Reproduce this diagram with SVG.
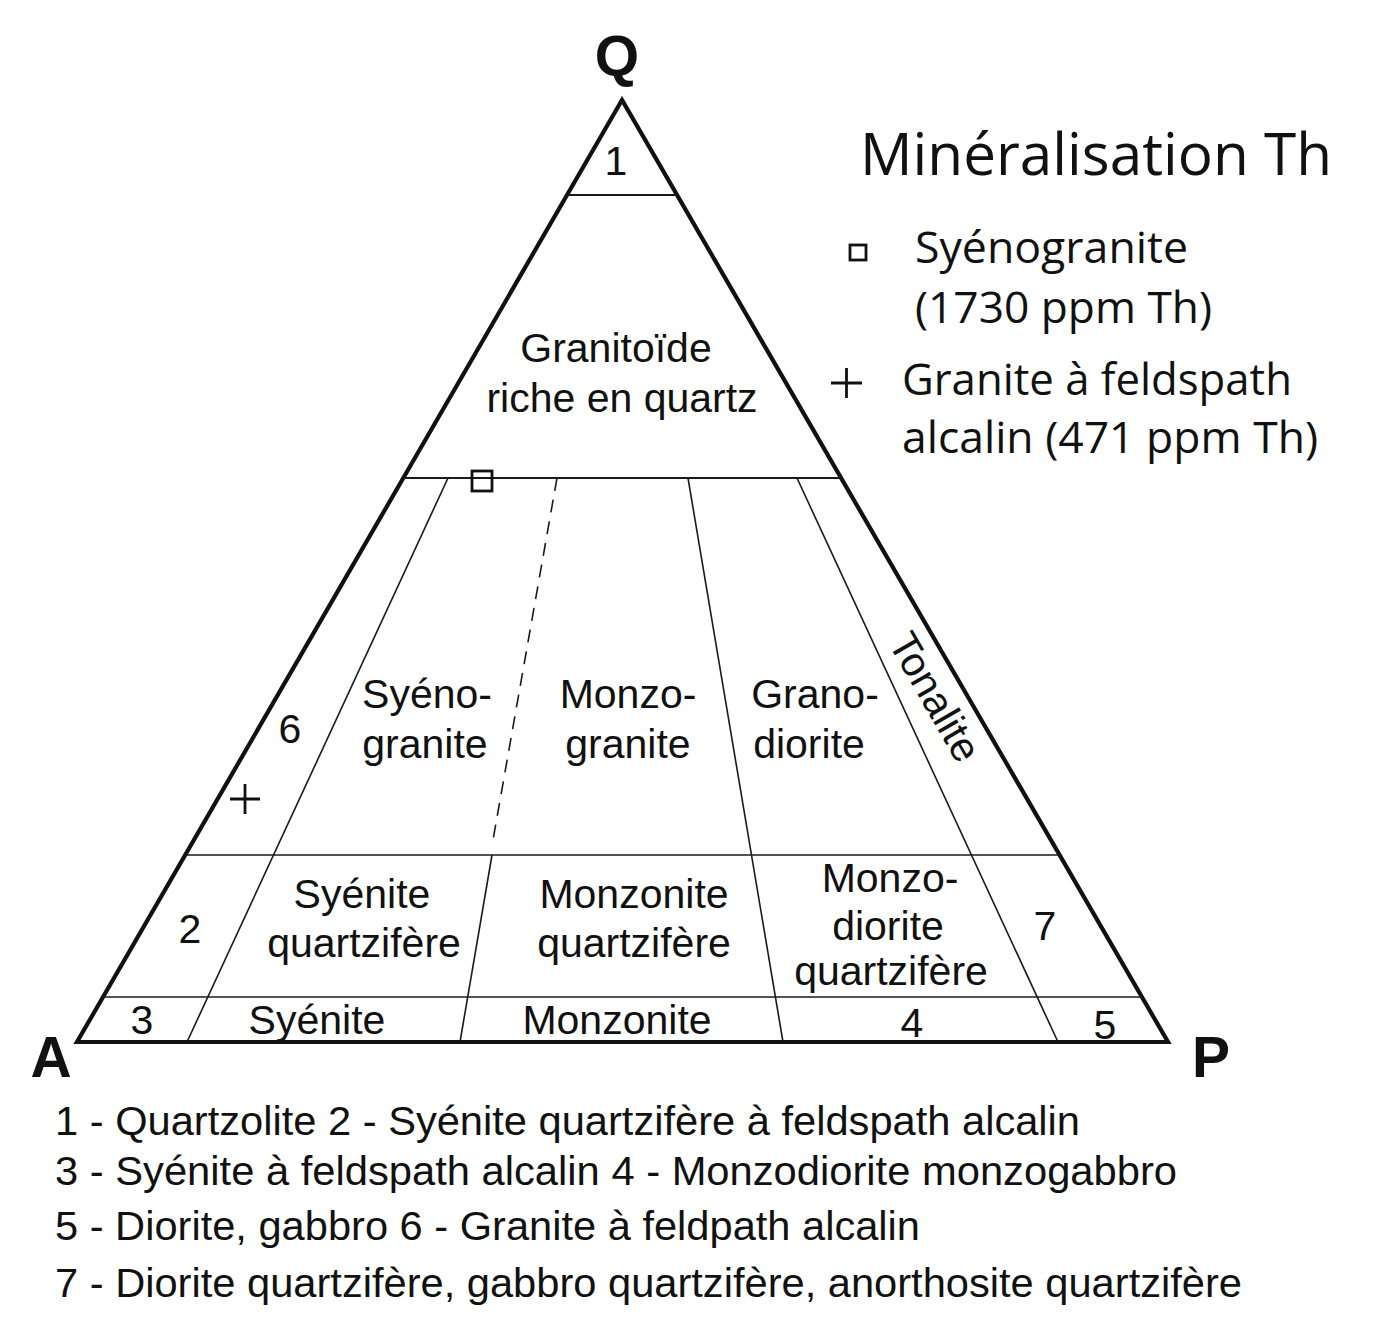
<svg xmlns="http://www.w3.org/2000/svg" width="1374" height="1331" viewBox="0 0 1374 1331">
<style>
.lab{font-family:"Liberation Sans",Arial,sans-serif;font-size:41px;fill:#111;text-anchor:middle}
.leg{font-family:"Liberation Sans",Arial,sans-serif;font-size:41px;fill:#111}
.big{font-family:"Liberation Sans",Arial,sans-serif;font-weight:bold;font-size:57px;fill:#111;text-anchor:middle}
.myr{font-family:"Open Sans","Noto Sans",sans-serif;fill:#111}
.thin{stroke:#1a1a1a;stroke-width:1.6;fill:none}
.mid{stroke:#1a1a1a;stroke-width:2.2;fill:none}
.mark{stroke:#111;stroke-width:2.8;fill:none}
</style>
<rect width="1374" height="1331" fill="#fff"/>
<g id="frame">
<polygon points="622,100 77,1042 1168,1042" fill="none" stroke="#111" stroke-width="4.2" stroke-linejoin="miter"/>
</g>
<g id="connectors">
<line class="mid" x1="567" y1="195" x2="677" y2="195"/>
<line class="mid" x1="403" y1="478" x2="841" y2="478"/>
<line class="thin" x1="185" y1="855" x2="1060" y2="855"/>
<line class="thin" x1="103" y1="997" x2="1142" y2="997"/>
<line class="thin" x1="448" y1="478" x2="187" y2="1042"/>
<line class="thin" x1="557" y1="478" x2="493" y2="840" stroke-dasharray="13,9"/>
<line class="thin" x1="492" y1="855" x2="460" y2="1042"/>
<line class="thin" x1="688" y1="478" x2="783" y2="1042"/>
<line class="thin" x1="797" y1="478" x2="1058" y2="1042"/>
</g>
<g id="vertex-Q"><text class="big" x="617" y="76">Q</text></g>
<g id="vertex-A"><text class="big" x="51" y="1077">A</text></g>
<g id="vertex-P"><text class="big" x="1211" y="1077">P</text></g>
<g id="field-1"><text class="lab" x="616" y="175">1</text></g>
<g id="field-granitoide"><text class="lab" x="616" y="362">Granitoïde</text><text class="lab" x="622" y="412">riche en quartz</text></g>
<g id="field-6"><text class="lab" x="290" y="743">6</text></g>
<g id="field-syenogranite"><text class="lab" x="427" y="708">Syéno-</text><text class="lab" x="425" y="758">granite</text></g>
<g id="field-monzogranite"><text class="lab" x="628" y="708">Monzo-</text><text class="lab" x="628" y="758">granite</text></g>
<g id="field-granodiorite"><text class="lab" x="815" y="708">Grano-</text><text class="lab" x="809" y="758">diorite</text></g>
<g id="field-tonalite"><text class="lab" transform="translate(935,697) rotate(60)" x="0" y="14">Tonalite</text></g>
<g id="field-2"><text class="lab" x="190" y="943">2</text></g>
<g id="field-syenite-q"><text class="lab" x="362" y="908">Syénite</text><text class="lab" x="364" y="957">quartzifère</text></g>
<g id="field-monzonite-q"><text class="lab" x="634" y="908">Monzonite</text><text class="lab" x="634" y="957">quartzifère</text></g>
<g id="field-monzodiorite-q"><text class="lab" x="890" y="892">Monzo-</text><text class="lab" x="888" y="940">diorite</text><text class="lab" x="891" y="985">quartzifère</text></g>
<g id="field-7"><text class="lab" x="1045" y="940">7</text></g>
<g id="field-3"><text class="lab" x="142" y="1034">3</text></g>
<g id="field-syenite"><text class="lab" x="317" y="1034">Syénite</text></g>
<g id="field-monzonite"><text class="lab" x="617" y="1034">Monzonite</text></g>
<g id="field-4"><text class="lab" x="912" y="1037">4</text></g>
<g id="field-5"><text class="lab" x="1105" y="1039">5</text></g>
<g id="sample-square"><rect class="mark" x="472" y="471" width="20" height="20"/></g>
<g id="sample-plus"><path class="mark" d="M230,799 H260 M245,784 V814"/></g>
<g id="legend-title"><text class="myr" x="860" y="175" font-size="58" textLength="472" lengthAdjust="spacingAndGlyphs">Minéralisation Th</text></g>
<g id="legend-square">
<rect class="mark" x="850" y="245" width="16" height="15" stroke-width="2.5"/>
<text class="myr" x="915" y="263" font-size="44" textLength="273" lengthAdjust="spacingAndGlyphs">Syénogranite</text>
<text class="myr" x="915" y="323" font-size="44" textLength="297" lengthAdjust="spacingAndGlyphs">(1730 ppm Th)</text>
</g>
<g id="legend-plus">
<path class="mark" d="M831,383 H862 M846.5,368 V398" stroke-width="2.5"/>
<text class="myr" x="902" y="395" font-size="44" textLength="390" lengthAdjust="spacingAndGlyphs">Granite à feldspath</text>
<text class="myr" x="902" y="453" font-size="44" textLength="416" lengthAdjust="spacingAndGlyphs">alcalin (471 ppm Th)</text>
</g>
<g id="legend-fields">
<text class="leg" x="55" y="1135" textLength="1025" lengthAdjust="spacingAndGlyphs">1 - Quartzolite 2 - Syénite quartzifère à feldspath alcalin</text>
<text class="leg" x="55" y="1185" textLength="1122" lengthAdjust="spacingAndGlyphs">3 - Syénite à feldspath alcalin 4 - Monzodiorite monzogabbro</text>
<text class="leg" x="55" y="1240" textLength="865" lengthAdjust="spacingAndGlyphs">5 - Diorite, gabbro 6 - Granite à feldpath alcalin</text>
<text class="leg" x="55" y="1297" textLength="1187" lengthAdjust="spacingAndGlyphs">7 - Diorite quartzifère, gabbro quartzifère, anorthosite quartzifère</text>
</g>
</svg>
